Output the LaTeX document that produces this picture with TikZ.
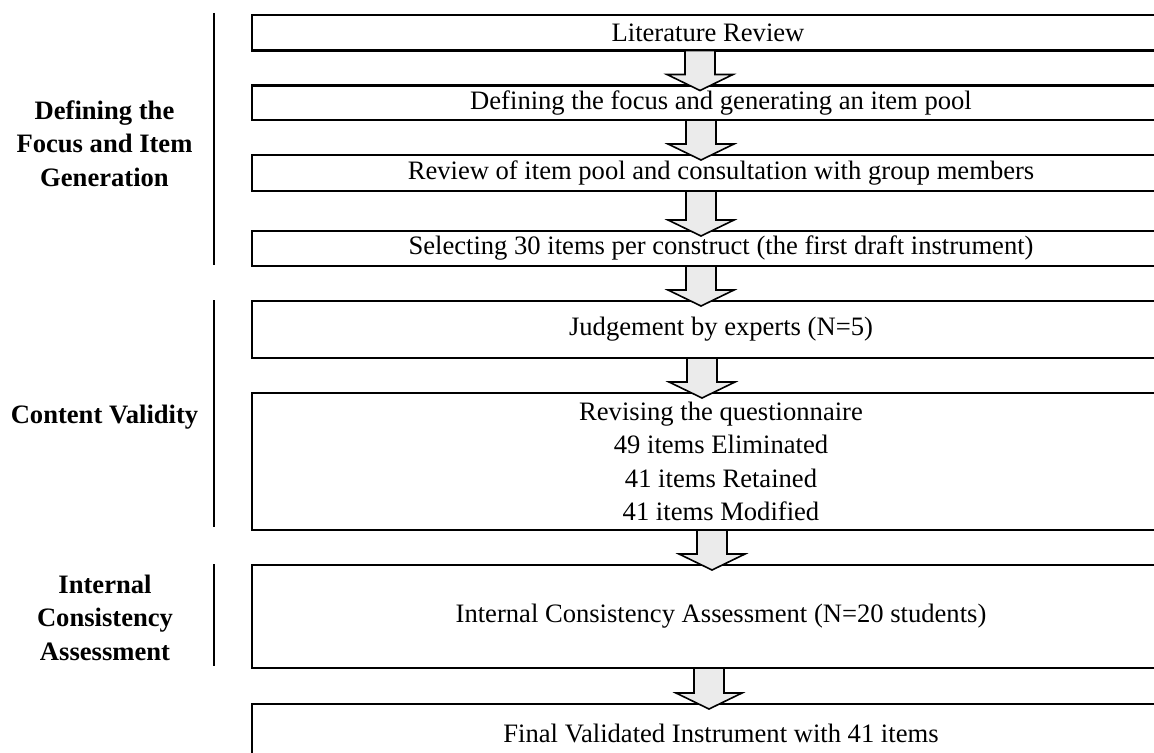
\documentclass[tikz,border=0pt]{standalone}
\usepackage{fontspec}
\setmainfont{Liberation Serif}
\usetikzlibrary{positioning,calc}

\newcommand{\mainsize}{\fontsize{13.3pt}{16.7pt}\selectfont}
% block arrow from the bottom of one stage to the top of the next
\newcommand{\flowarrow}[3][0pt]{%
  \path ([xshift=#1]#2.south) coordinate (s) (s |- #3.north) ++(0,-2.5pt) coordinate (t);
  \draw[blockarrow] ($(s)+(-7.5pt,0)$) -- ($(t)+(-7.5pt,8pt)$) -- ($(t)+(-16.5pt,8pt)$) -- (t)
    -- ($(t)+(16.5pt,8pt)$) -- ($(t)+(7.5pt,8pt)$) -- ($(s)+(7.5pt,0)$) -- cycle;}

\begin{document}
\begin{tikzpicture}[stage/.style={draw, line width=1.1pt, minimum width=469pt, inner sep=0pt, outer sep=0pt, align=center, font=\mainsize}, phase/.style={align=center, font=\mainsize\bfseries}, blockarrow/.style={draw, fill=gray!16, line width=0.8pt, line join=miter}, bracket/.style={line width=1pt}, node distance=17.5pt]
\clip (0,0) rectangle (577pt,-376.5pt);
\node[stage, minimum height=17.75pt, anchor=north west] (litreview) at (126pt,-7.5pt) {Literature Review\hspace*{13pt}};
\node[stage, minimum height=17.25pt, below=of litreview] (focus) {Defining the focus and generating an item pool};
\node[stage, minimum height=18pt, below=of focus] (poolreview) {Review of item pool and consultation with group members};
\node[stage, minimum height=17.5pt, below=20pt of poolreview] (selecting) {Selecting 30 items per construct (the first draft instrument)};
\node[stage, minimum height=28.5pt, below=of selecting] (experts) {Judgement by experts (N=5)};
\node[stage, minimum height=68.5pt, below=of experts] (revising) {Revising the questionnaire\\49 items Eliminated\\41 items Retained\\41 items Modified};
\node[stage, minimum height=51.5pt, below=of revising] (consistency) {Internal Consistency Assessment (N=20 students)};
\node[stage, minimum height=29pt, below=18pt of consistency] (final) {Final Validated Instrument with 41 items};
\foreach \a/\b/\dx in {litreview/focus/-10.5pt, focus/poolreview/-10pt, poolreview/selecting/-10pt, selecting/experts/-10pt, experts/revising/-9.5pt, revising/consistency/-4.5pt, consistency/final/-6pt}{\flowarrow[\dx]{\a}{\b}}
% phases on the left
\node[phase] (defphase) at (52.25pt,-71.75pt) {Defining the\\Focus and Item\\Generation};
\node[phase] (cvphase) at (52.25pt,-208.5pt) {Content Validity};
\node[phase] (icphase) at (52.5pt,-308.75pt) {Internal\\Consistency\\Assessment};
\draw[bracket] (107pt,-6.5pt) -- (107pt,-132.5pt);
\draw[bracket] (107pt,-150pt) -- (107pt,-263.5pt);
\draw[bracket] (107pt,-282pt) -- (107pt,-333pt);
\end{tikzpicture}
\end{document}
